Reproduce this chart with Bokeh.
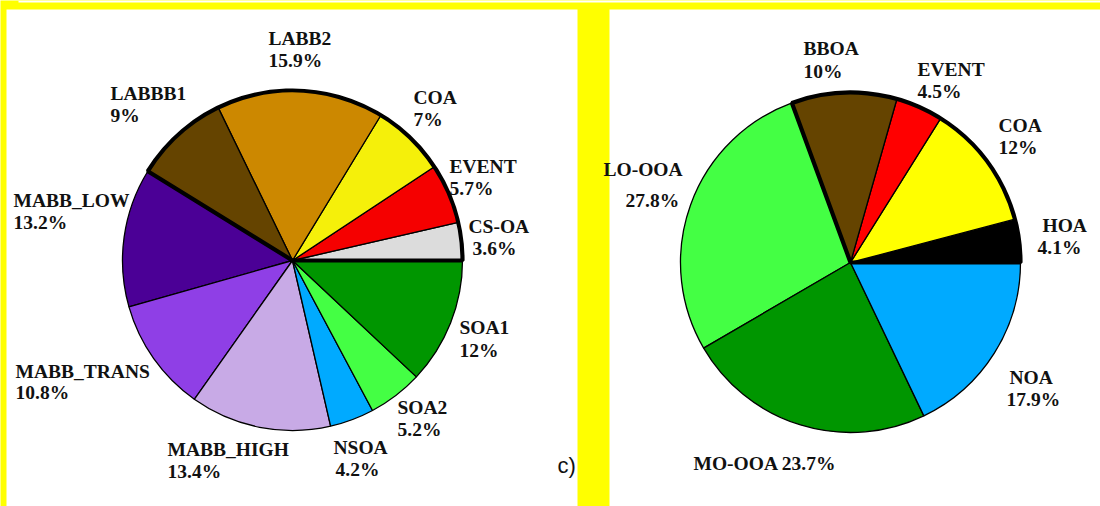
import numpy as np
from bokeh.plotting import figure
from bokeh.models import Range1d, ColumnDataSource
from bokeh.core.properties import value
from bokeh.embed import file_html
from bokeh.resources import INLINE

# ---- data ----
left_names = ["CS-OA", "EVENT", "COA", "LABB2", "LABBB1", "MABB_LOW",
              "MABB_TRANS", "MABB_HIGH", "NSOA", "SOA2", "SOA1"]
left_values = [3.6, 5.7, 7, 15.9, 9, 13.2, 10.8, 13.4, 4.2, 5.2, 12]
left_colors = ["#dcdcdc", "#f50000", "#f5f00a", "#cc8800", "#654400", "#4b0096",
               "#8f3fe6", "#c8aae6", "#00aaff", "#44ff44", "#009600"]
left_bold_count = 5   # slices with thick outline (CS-OA .. LABBB1)

right_names = ["HOA", "COA", "EVENT", "BBOA", "LO-OOA", "MO-OOA", "NOA"]
right_values = [4.1, 12, 4.5, 10, 27.8, 23.7, 17.9]
right_colors = ["#000000", "#ffff00", "#ff0000", "#654400", "#44ff44", "#009600", "#00aaff"]
right_bold_count = 4  # HOA .. BBOA

# ---- layout (screen px: x, baseline y for name line, x, baseline y for % line) ----
left_label_pos = [(468, 233, 472, 255), (449, 173, 449, 195), (413, 104, 413, 126),
                  (268, 45, 268, 67), (110, 100, 110, 122), (13, 207, 13, 229),
                  (15, 378, 15, 399), (167, 456, 167, 478), (333, 454, 335, 476),
                  (397, 414, 397, 436), (459, 334, 459, 357)]
right_label_pos = [(1042, 232, 1037, 254), (998, 132, 998, 154), (917, 76, 917, 98),
                   (803, 55, 803, 78), (603, 176, 625, 207), None, (1009, 384, 1006, 406)]
right_single = {5: (693, 470)}
TEXT_SHIFT = 7

W, H = 1100, 506


def sy(y):
    return H - y


def ty(y):
    return H - (y - TEXT_SHIFT)


p = figure(width=W, height=H, output_backend="svg", toolbar_location=None,
           x_range=Range1d(0, W), y_range=Range1d(0, H),
           min_border=0, min_border_left=0, min_border_right=0,
           min_border_top=0, min_border_bottom=0)
p.xaxis.visible = False
p.yaxis.visible = False
p.grid.visible = False
p.outline_line_color = None
p.background_fill_color = "#ffff00"
p.border_fill_color = "#ffff00"

# white panels and top white sliver
p.quad(left=[6, 609, 18], right=[577, W, W], top=[sy(9), sy(9), sy(0)],
       bottom=[sy(H), sy(H), sy(2)], fill_color="white", line_color=None)


def draw_pie(cx, cy, r, vals, colors, bold_n):
    v = np.array(vals, dtype=float)
    ang = np.concatenate([[0], np.cumsum(v) / v.sum() * 2 * np.pi])
    src = ColumnDataSource(dict(start=ang[:-1], end=ang[1:], color=colors))
    p.wedge(x=cx, y=cy, radius=r, start_angle="start", end_angle="end",
            fill_color="color", line_color="black", line_width=1.3, source=src)
    p.wedge(x=cx, y=cy, radius=r, start_angle=0, end_angle=ang[bold_n],
            fill_color=None, line_color="black", line_width=4.2)


draw_pie(292, sy(260), 170, left_values, left_colors, left_bold_count)
draw_pie(850, sy(262), 170, right_values, right_colors, right_bold_count)

# labels
xs, ys, ts = [], [], []
for name, val, pos in zip(left_names, left_values, left_label_pos):
    xs += [pos[0], pos[2]]
    ys += [ty(pos[1]), ty(pos[3])]
    ts += [name, f"{val:g}%"]
for i, (name, val, pos) in enumerate(zip(right_names, right_values, right_label_pos)):
    if pos is None:
        x0, y0 = right_single[i]
        xs.append(x0)
        ys.append(ty(y0))
        ts.append(f"{name} {val:g}%")
    else:
        xs += [pos[0], pos[2]]
        ys += [ty(pos[1]), ty(pos[3])]
        ts += [name, f"{val:g}%"]

p.text(x=xs, y=ys, text=ts, text_font=value("Liberation Serif"), text_font_style="bold",
       text_font_size="19.5px", text_color="#111111", text_align="left",
       text_baseline="alphabetic")

p.text(x=[557], y=[ty(472)], text=["c)"], text_font=value("Liberation Sans"),
       text_font_size="22px", text_color="#111111", text_align="left",
       text_baseline="alphabetic")

open("out.html", "w").write(file_html(p, INLINE))
